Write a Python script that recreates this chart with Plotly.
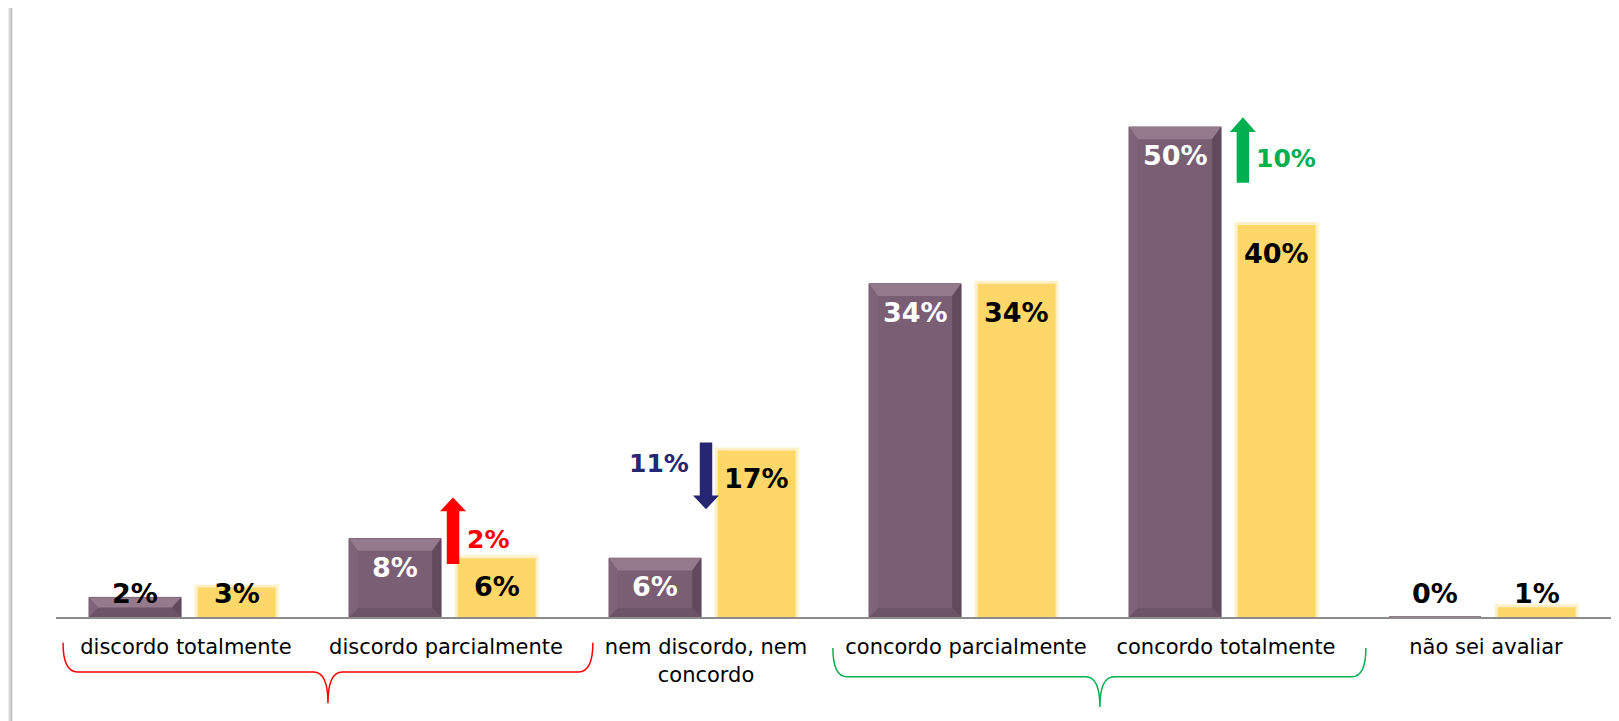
import plotly.graph_objects as go

categories = ["discordo totalmente", "discordo parcialmente", "nem discordo, nem<br>concordo",
              "concordo parcialmente", "concordo totalmente", "não sei avaliar"]
current = [2, 8, 6, 34, 50, 0]
previous = [3, 6, 17, 34, 40, 1]
labels_cur = ["2%", "8%", "6%", "34%", "50%", "0%"]
labels_prev = ["3%", "6%", "17%", "34%", "40%", "1%"]

# change arrows: (category index, x offset, direction, text, color, tail, head_base, tip, text_x_off, text_y)
changes = [
    (1, 0.027, "up", "2%", "#FF0000", 5.4, 10.8, 12.2, 0.16, 7.9),
    (2, 0.0, "down", "11%", "#262673", 17.8, 12.4, 11.0, -0.18, 15.7),
    (4, 0.065, "up", "10%", "#00B050", 44.3, 49.5, 51.0, 0.23, 46.8),
]

PURPLE = "#7a5e74"
YELLOW = "#fdd768"
FONT = "DejaVu Sans"

xs = list(range(len(categories)))
BW_C, OFF_C = 0.354, -0.373
BW_P, OFF_P = 0.30, 0.045
fig = go.Figure()
fig.add_trace(go.Bar(x=xs, y=current, width=BW_C, offset=OFF_C,
                     marker=dict(color=PURPLE, line=dict(color="#6a5064", width=1)),
                     hoverinfo="skip", showlegend=False))
fig.add_trace(go.Bar(x=xs, y=previous, width=BW_P, offset=OFF_P,
                     marker=dict(color=YELLOW, line=dict(color="rgba(253,215,104,0.35)", width=6)),
                     hoverinfo="skip", showlegend=False))

shapes = []
# bevel effect on purple bars
bx, by = 0.034, 1.25
for i, v in enumerate(current):
    if v <= 0:
        continue
    x0 = i + OFF_C
    x1 = x0 + BW_C
    h = min(by, v / 2.0)
    hb = min(0.9, v / 2.0)
    top = [(x0, v), (x1, v), (x1 - bx, v - h), (x0 + bx, v - h)]
    right = [(x1, v), (x1, 0), (x1 - bx, hb), (x1 - bx, v - h)]
    left = [(x0, v), (x0, 0), (x0 + bx, hb), (x0 + bx, v - h)]
    bottom = [(x0, 0), (x1, 0), (x1 - bx, hb), (x0 + bx, hb)]
    for pts, col in [(top, "#957a8d"), (right, "#624a5c"), (left, "#7f6479"), (bottom, "#6c5367")]:
        path = "M " + " L ".join(f"{a},{b}" for a, b in pts) + " Z"
        shapes.append(dict(type="path", path=path, xref="x", yref="y", fillcolor=col,
                           line=dict(width=0), layer="above"))

ann = []
for i, (v, t) in enumerate(zip(current, labels_cur)):
    y = max(v - 2.9, 2.35)
    col = "white" if v - 2.9 > 2.35 else "black"
    ann.append(dict(x=i + OFF_C + BW_C / 2, y=y, text="<b>%s</b>" % t, showarrow=False,
                    xref="x", yref="y", font=dict(family=FONT, size=27, color=col)))
for i, (v, t) in enumerate(zip(previous, labels_prev)):
    y = max(v - 2.9, 2.35)
    ann.append(dict(x=i + OFF_P + BW_P / 2, y=y, text="<b>%s</b>" % t, showarrow=False,
                    xref="x", yref="y", font=dict(family=FONT, size=27, color="black")))

for (ci, xo, d, t, col, tail, hb, tip, tx, ty) in changes:
    cx = ci + xo
    sw = 0.024
    hw = 0.05
    p = (f"M {cx-sw},{tail} L {cx-sw},{hb} L {cx-hw},{hb} L {cx},{tip} L {cx+hw},{hb} "
         f"L {cx+sw},{hb} L {cx+sw},{tail} Z")
    shapes.append(dict(type="path", path=p, xref="x", yref="y", fillcolor=col, line=dict(width=0)))
    ann.append(dict(x=ci + tx, y=ty, text="<b>%s</b>" % t, showarrow=False, xref="x", yref="y",
                    font=dict(family=FONT, size=25, color=col)))


def brace(left, right, tipx, top, horiz, tipy, r=0.055):
    return (f"M {left},{top} Q {left},{horiz} {left+r},{horiz} L {tipx-r},{horiz} "
            f"Q {tipx},{horiz} {tipx},{tipy} Q {tipx},{horiz} {tipx+r},{horiz} "
            f"L {right-r},{horiz} Q {right},{horiz} {right},{top}")


shapes.append(dict(type="path", path=brace(-0.473, 1.565, 0.546, -0.048, -0.102, -0.160),
                   xref="x", yref="paper", line=dict(color="#FF0000", width=1.5)))
shapes.append(dict(type="path", path=brace(2.488, 4.538, 3.515, -0.0575, -0.111, -0.167),
                   xref="x", yref="paper", line=dict(color="#00B050", width=1.5)))

# left shadow border
for xp, c, w in [(-0.0305, "#eeeeee", 3), (-0.0295, "#d8d8d8", 2), (-0.0285, "#bdbdbd", 1.5)]:
    shapes.append(dict(type="line", xref="paper", yref="paper", x0=xp, x1=xp, y0=-0.2, y1=1.13,
                       line=dict(color=c, width=w)))

fig.update_layout(
    width=1611, height=713,
    margin=dict(l=48, r=3, t=70, b=104),
    paper_bgcolor="white", plot_bgcolor="white",
    annotations=ann, shapes=shapes,
    font=dict(family=FONT, size=21, color="#000000"),
)
fig.update_xaxes(range=[-0.5, 5.5], tickmode="array", tickvals=xs, ticktext=categories,
                 showline=True, linecolor="#8c8c8c", linewidth=2, showgrid=False, zeroline=False,
                 ticks="", ticklabelstandoff=10,
                 tickfont=dict(family=FONT, size=21, color="#000000"), layer="above traces")
fig.update_yaxes(range=[0, 55], visible=False, showgrid=False, zeroline=False)

fig.write_html("out.html")
